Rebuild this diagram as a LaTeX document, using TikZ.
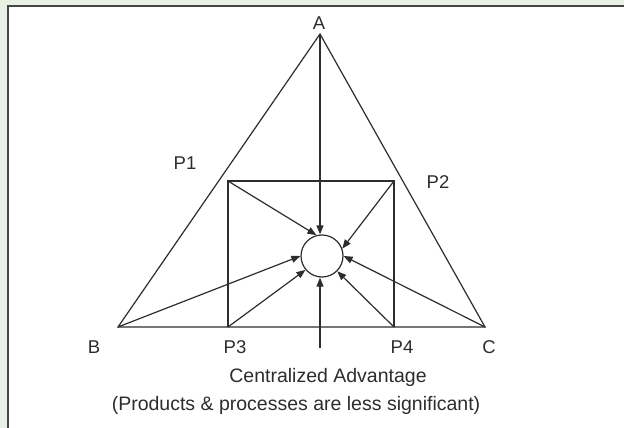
\documentclass[tikz,border=0pt]{standalone}
\usepackage{fontspec}
\setmainfont{Liberation Sans}
\usetikzlibrary{arrows.meta, positioning}

\definecolor{pagebg}{RGB}{232,241,228}
\definecolor{framegray}{RGB}{70,70,70}
\definecolor{inkgray}{RGB}{45,45,45}

\begin{document}
\begin{tikzpicture}[
    x=1pt, y=-1pt,
    edge/.style    = {draw=inkgray, line width=1.2pt},
    arr/.style     = {edge, -{Triangle[length=9pt, width=7pt]}},
    lab/.style     = {font=\fontsize{18.5}{20}\selectfont, text=inkgray, inner sep=1pt},
    captext/.style = {font=\fontsize{19.5}{22}\selectfont, text=inkgray, inner sep=1pt},
    hub/.style     = {circle, draw=inkgray, line width=1.2pt, minimum size=42pt, inner sep=0pt},
]

%% ---- Page and frame ----

\useasboundingbox (0,0) rectangle (624,428);
\fill[pagebg] (0,0) rectangle (624,428);
\fill[white] (8,6) rectangle (624,428);
\draw[framegray, line width=1.6pt] (8,428) -- (8,6) -- (624,6);

%% ---- Corner points ----

\coordinate (A)  at (320,34);
\coordinate (B)  at (118,327);
\coordinate (C)  at (485,327);
\coordinate (TL) at (228,181);
\coordinate (TR) at (394,181);
\coordinate (P3) at (228,327);
\coordinate (P4) at (394,327);
\coordinate (Bot) at (320,348);

\node[hub] (core) at (322,256) {};

%% ---- Triangle and square ----

\draw[edge] (A) -- (B) -- (C) -- cycle;
\draw[edge] (P3) -- (TL) -- (TR) -- (P4);

%% ---- Arrows into the centre ----

\draw[arr] (A)   -- (A |- core.north);
\draw[arr] (TL)  -- (core.105);
\draw[arr] (TR)  -- (core.20);
\draw[arr] (B)   -- (core.180);
\draw[arr] (P3)  -- (core.220);
\draw[arr] (Bot) -- (Bot |- core.south);
\draw[arr] (P4)  -- (core.-45);
\draw[arr] (C)   -- (core.0);

%% ---- Labels ----

\node[lab] (lA)  at (319,23)  {A};
\node[lab] (lB)  at (94,347)  {B};
\node[lab] (lC)  at (489,347) {C};
\node[lab] (lP1) at (185,163) {P1};
\node[lab] (lP2) at (438,182) {P2};
\node[lab] (lP3) at (235,347) {P3};
\node[lab] (lP4) at (402,347) {P4};

\node[captext] (title) at (328,377) {Centralized Advantage};
\node[captext] (note)  at (296,405) {(Products \& processes are less significant)};

\end{tikzpicture}
\end{document}
